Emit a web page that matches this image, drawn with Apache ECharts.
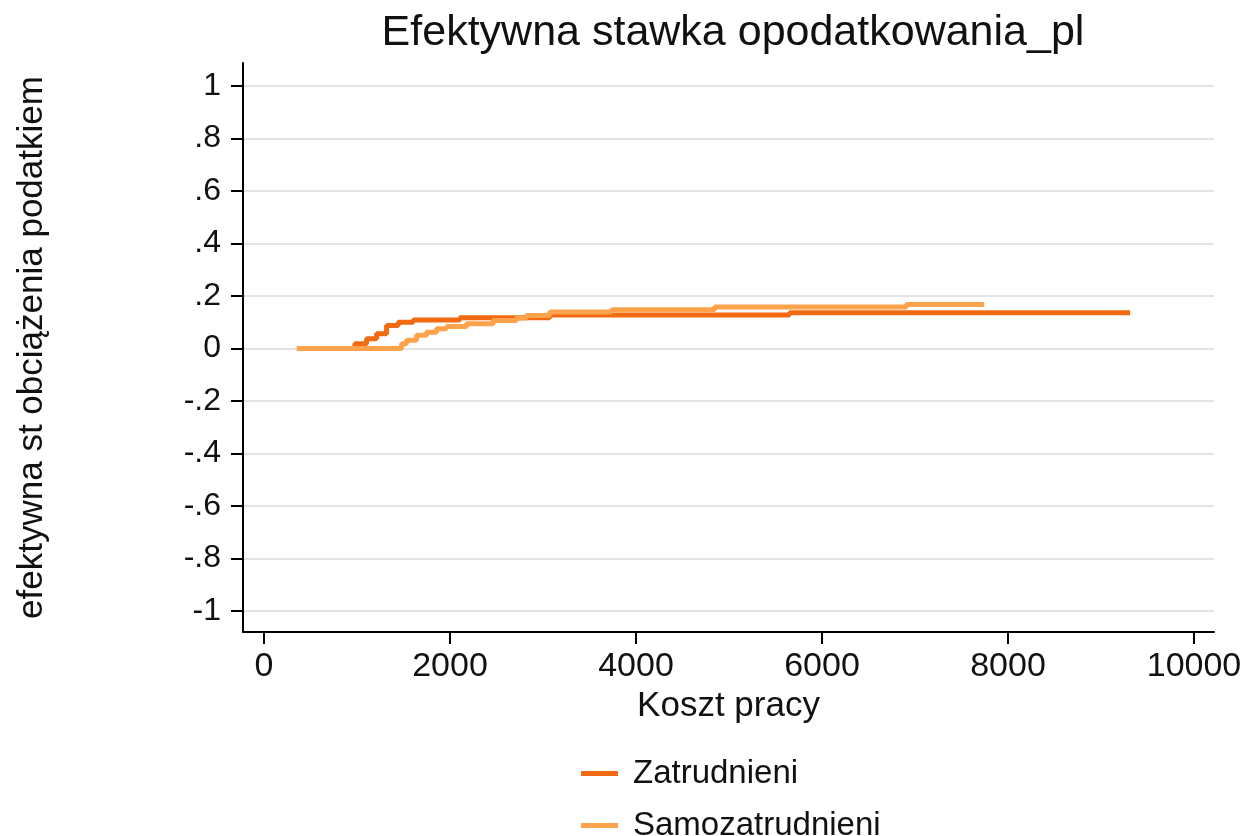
<!DOCTYPE html>
<html>
<head>
<meta charset="utf-8">
<script src="https://cdn.jsdelivr.net/npm/echarts@6/dist/echarts.min.js"></script>
<style>
  html, body { margin: 0; padding: 0; background: #fff; }
  #main { width: 1248px; height: 836px; }
</style>
</head>
<body>
<div id="main"></div>
<script>
// tick positions
var xTicks = [0, 2000, 4000, 6000, 8000, 10000];
var yTicks = [-1, -0.8, -0.6, -0.4, -0.2, 0, 0.2, 0.4, 0.6, 0.8, 1];

// Zatrudnieni (step start points)
var zatrudnieniX = [400, 977, 1103, 1210, 1318, 1443, 1604, 2105, 3072, 5650, 9313];
var zatrudnieniY = [0, 0.018, 0.037, 0.056, 0.088, 0.1, 0.109, 0.117, 0.128, 0.136, 0.136];

// Samozatrudnieni
var samoX = [351, 1479, 1533, 1640, 1748, 1855, 1963, 2178, 2464, 2714, 2822, 3072, 3738, 4844, 6906, 7744];
var samoY = [0, 0.018, 0.031, 0.05, 0.062, 0.075, 0.084, 0.094, 0.107, 0.116, 0.126, 0.139, 0.148, 0.158, 0.168, 0.168];

function pairs(xs, ys) {
  return xs.map(function (x, i) { return [x, ys[i]]; });
}

var font = "'Liberation Sans', Arial, sans-serif";
var txt = '#111';

var chart = echarts.init(document.getElementById('main'));
chart.setOption({
  animation: false,
  title: {
    text: 'Efektywna stawka opodatkowania_pl',
    left: 728,
    textAlign: 'center',
    top: 7,
    textStyle: { fontFamily: font, fontSize: 43, fontWeight: 'normal', color: txt }
  },
  legend: {
    orient: 'vertical',
    left: 576,
    top: 752,
    height: 200,
    itemWidth: 37,
    itemHeight: 5,
    itemGap: 19,
    icon: 'rect',
    textStyle: { fontFamily: font, fontSize: 33, color: txt, padding: [0, 0, 0, 10] },
    data: ['Zatrudnieni', 'Samozatrudnieni']
  },
  grid: { left: 243, right: 34, top: 63, bottom: 204 },
  xAxis: {
    type: 'value',
    min: -226,
    max: 10215,
    name: 'Koszt pracy',
    nameLocation: 'middle',
    nameGap: 52,
    nameTextStyle: { fontFamily: font, fontSize: 35, color: txt },
    axisLine: { show: true, onZero: false, lineStyle: { color: '#000', width: 2 } },
    axisTick: { show: true, length: 12, customValues: xTicks, lineStyle: { color: '#000', width: 2 } },
    axisLabel: {
      customValues: xTicks,
      margin: 18,
      fontFamily: font,
      fontSize: 34,
      color: txt,
      formatter: function (v) { return String(v); }
    },
    splitLine: { show: false }
  },
  yAxis: {
    type: 'value',
    min: -1.08,
    max: 1.0876,
    name: 'efektywna st obciążenia podatkiem',
    nameLocation: 'middle',
    nameGap: 193,
    nameTextStyle: { fontFamily: font, fontSize: 35, color: txt },
    axisLine: { show: true, onZero: false, lineStyle: { color: '#000', width: 2 } },
    axisTick: { show: true, length: 12, customValues: yTicks, lineStyle: { color: '#000', width: 2 } },
    axisLabel: {
      customValues: yTicks,
      margin: 22,
      fontFamily: font,
      fontSize: 32,
      color: txt,
      formatter: function (v) {
        var s = String(Math.round(v * 10) / 10);
        return s.replace('0.', '.');
      }
    },
    splitLine: { show: true, lineStyle: { color: '#e4e4e4', width: 2 } }
  },
  series: [
    {
      name: 'Zatrudnieni',
      type: 'line',
      step: 'end',
      showSymbol: false,
      color: '#f26b12',
      lineStyle: { width: 5 },
      data: pairs(zatrudnieniX, zatrudnieniY)
    },
    {
      name: 'Samozatrudnieni',
      type: 'line',
      step: 'end',
      showSymbol: false,
      color: '#ffa24c',
      lineStyle: { width: 5 },
      data: pairs(samoX, samoY)
    }
  ]
});
</script>
</body>
</html>
